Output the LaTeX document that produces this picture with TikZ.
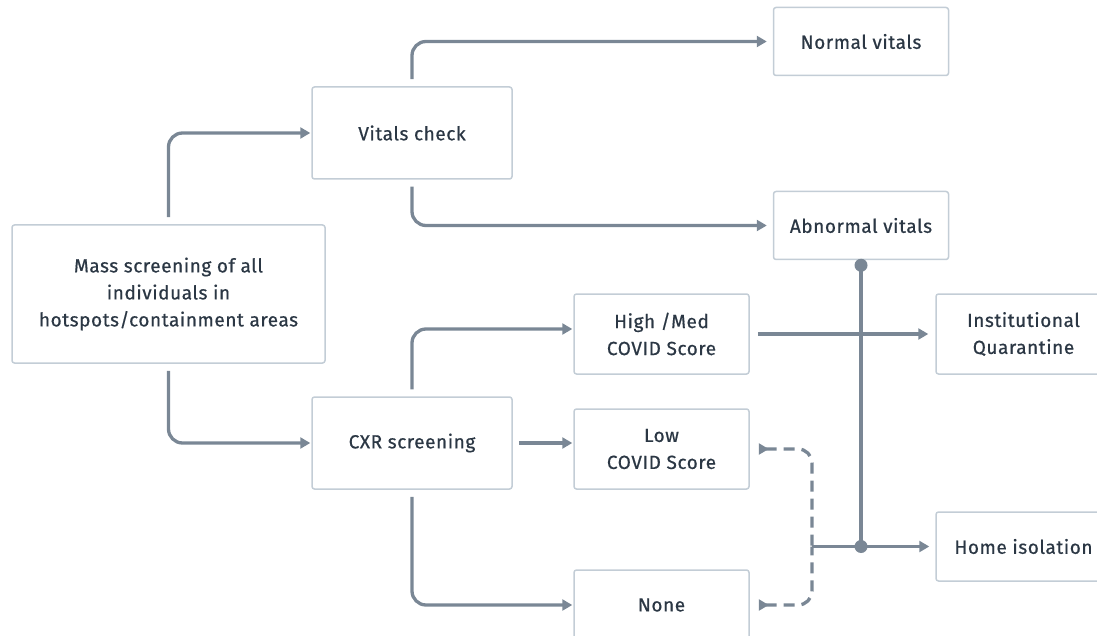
\documentclass[tikz,border=0pt]{standalone}
\usepackage{fontspec}
\setmainfont{Fira Sans}[LetterSpace=3,FakeBold=0.6]
\usetikzlibrary{arrows.meta}
\definecolor{ln}{HTML}{7A8795}
\definecolor{bd}{HTML}{C3CDD6}
\definecolor{tx}{HTML}{2B3744}
\begin{document}
\begin{tikzpicture}[x=1pt,y=-1pt,
  box/.style={draw=bd,line width=1.5pt,rounded corners=2.5pt,fill=white,text=tx,align=center,
    font=\fontsize{19}{27}\selectfont,inner sep=0pt},
  conn/.style={draw=ln,line width=3.3pt,rounded corners=14pt,-{Triangle[length=10pt,width=11pt]}},
  dconn/.style={draw=ln,line width=3.3pt,rounded corners=14pt,dash pattern=on 11pt off 7pt,
    {Triangle[length=10pt,width=11pt,reversed]}-},
  dot/.style={circle,fill=ln,inner sep=0pt,minimum size=13pt}
]
\useasboundingbox (0,0) rectangle (1097,636);
\clip (0,0) rectangle (1097,636);
\node[box,minimum width=313pt,minimum height=138pt] (mass) at (168.5,294) {Mass screening of all\\individuals in\\hotspots/containment areas};
\node[box,minimum width=200pt,minimum height=92pt] (vit) at (412,133) {Vitals check};
\node[box,minimum width=200pt,minimum height=92pt] (cxr) at (412,443) {CXR screening};
\node[box,minimum width=175pt,minimum height=68pt] (norm) at (861,41.5) {Normal vitals};
\node[box,minimum width=175pt,minimum height=68pt] (abn) at (861,225.5) {Abnormal vitals};
\node[box,minimum width=175pt,minimum height=80pt] (high) at (661.5,334) {High /Med\\COVID Score};
\node[box,minimum width=175pt,minimum height=80pt] (low) at (661.5,449) {Low\\COVID Score};
\node[box,minimum width=175pt,minimum height=70pt] (none) at (661.5,605) {None};
\node[box,minimum width=175pt,minimum height=80pt] (inst) at (1023.5,334) {Institutional\\Quarantine};
\node[box,minimum width=175pt,minimum height=69pt] (home) at (1023.5,546.5) {Home isolation};

\coordinate (dtop) at ([yshift=-5pt]abn.south);
\coordinate (dbot) at (dtop |- home.west);
\coordinate (jn) at (812,0);
\coordinate (jh) at (jn |- home.west);

\draw[conn] ([yshift=7pt]mass.north) |- ([xshift=-1pt]vit.west);
\draw[conn] ([yshift=-7pt]mass.south) |- ([xshift=-1pt]cxr.west);
\draw[conn] ([yshift=7pt]vit.north) |- ([xshift=-6pt]norm.west);
\draw[conn] ([yshift=-7pt]vit.south) |- ([xshift=-6pt]abn.west);
\draw[conn] ([yshift=7pt]cxr.north) |- ([xshift=-1pt,yshift=5pt]high.west);
\draw[conn] ([xshift=6pt]cxr.east) -- ([xshift=-1pt]cxr.east -| low.west);
\draw[conn] ([yshift=-7pt]cxr.south) |- ([xshift=-1pt]none.west);
\draw[conn] ([xshift=8pt]high.east) -- ([xshift=-7pt]inst.west);
\draw[draw=ln,line width=3.3pt] (dtop) -- (dbot);
\draw[conn] (jh) -- ([xshift=-6pt]home.west);
\draw[dconn] ([xshift=9pt]low.east) -| (jh);
\draw[dconn] ([xshift=9pt]none.east) -| (jh);
\node[dot] (d1) at (dtop) {};
\node[dot] (d2) at (dbot) {};
\end{tikzpicture}
\end{document}
